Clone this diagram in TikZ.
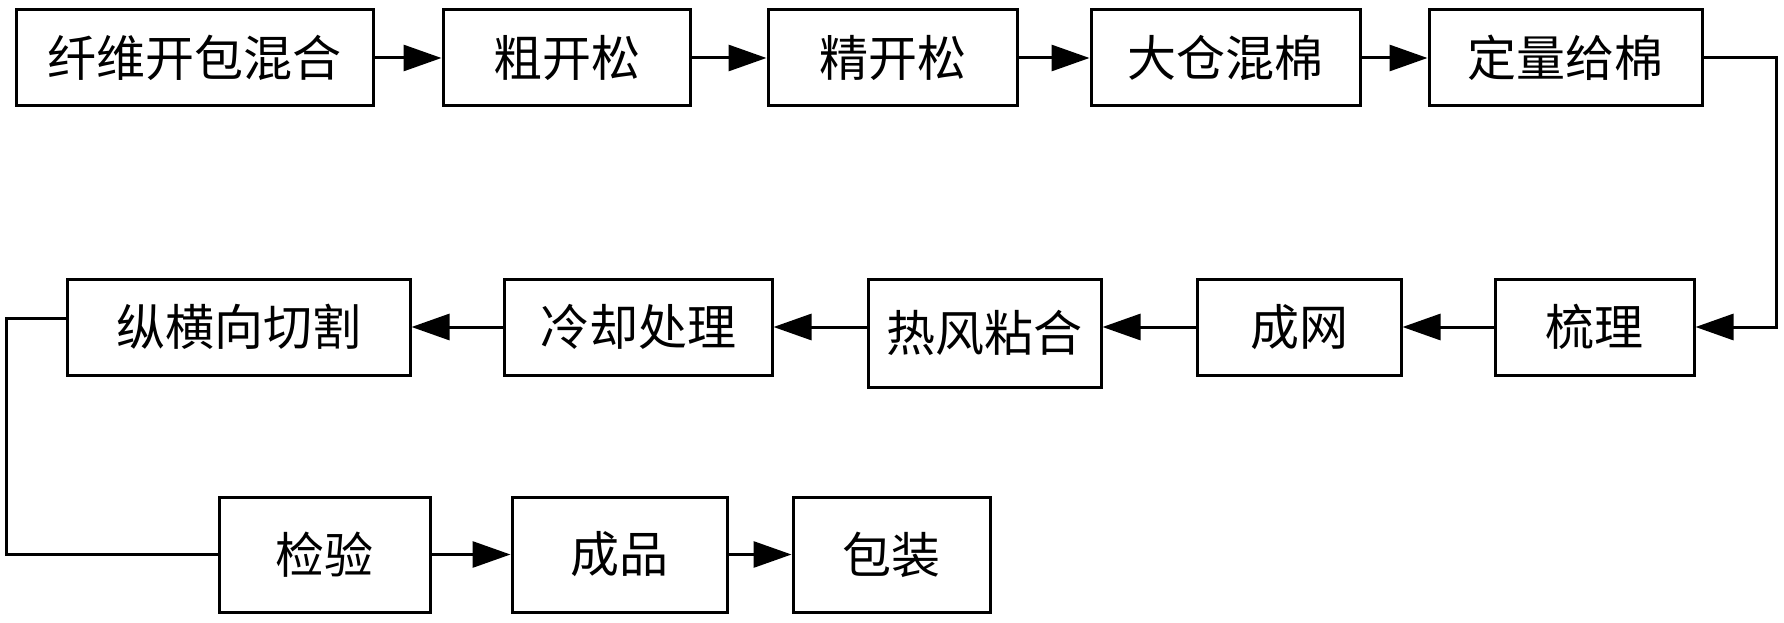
\documentclass[tikz,border=0pt]{standalone}
\usepackage{fontspec}
\newfontfamily\cjk{Noto Sans CJK SC}
\usetikzlibrary{arrows.meta}
\tikzset{
  stepbox/.style={draw, line width=3pt, rectangle, inner sep=0pt, font=\cjk\fontsize{49}{52}\selectfont},
  arr/.style={line width=3pt, -{Triangle[length=38pt, width=26pt]}},
  link/.style={line width=3pt}
}
\begin{document}
\begin{tikzpicture}[x=1pt, y=-1pt]
\useasboundingbox[fill=white] (0,0) rectangle (1784,623);
% row 1
\node[stepbox, minimum width=357pt, minimum height=96pt] (a1) at (194.5,58) {纤维开包混合};
\node[stepbox, minimum width=247pt, minimum height=96pt] (a2) at (566.5,58) {粗开松};
\node[stepbox, minimum width=249pt, minimum height=96pt] (a3) at (892.5,58) {精开松};
\node[stepbox, minimum width=269pt, minimum height=96pt] (a4) at (1225.5,58) {大仓混棉};
\node[stepbox, minimum width=273pt, minimum height=96pt] (a5) at (1565.5,58) {定量给棉};
% row 2
\node[stepbox, minimum width=343pt, minimum height=96pt] (b1) at (238.5,327) {纵横向切割};
\node[stepbox, minimum width=268pt, minimum height=96pt] (b2) at (638,327) {冷却处理};
\node[stepbox, minimum width=233pt, minimum height=108pt] (b3) at (984.5,333) {热风粘合};
\node[stepbox, minimum width=204pt, minimum height=96pt] (b4) at (1299,327) {成网};
\node[stepbox, minimum width=199pt, minimum height=96pt] (b5) at (1594.5,327) {梳理};
% row 3
\node[stepbox, minimum width=211pt, minimum height=115pt] (c1) at (324.5,554.5) {检验};
\node[stepbox, minimum width=215pt, minimum height=115pt] (c2) at (619.5,554.5) {成品};
\node[stepbox, minimum width=197pt, minimum height=115pt] (c3) at (891.5,554.5) {包装};
% connectors row 1
\draw[arr] (a1.east) -- (a2.west);
\draw[arr] (a2.east) -- (a3.west);
\draw[arr] (a3.east) -- (a4.west);
\draw[arr] (a4.east) -- (a5.west);
\coordinate (r) at (1776,58);
\draw[arr] (a5.east) -- (r) |- (b5.east);
% row 2
\draw[arr] (b5.west) -- (b4.east);
\draw[arr] (b4.west) -- (b4.west -| b3.east);
\draw[arr] (b4.west -| b3.west) -- (b2.east);
\draw[arr] (b2.west) -- (b1.east);
\coordinate (l) at (6,318);
\draw[link] ([yshift=9pt]b1.west) -- (l) |- (c1.west);
% row 3
\draw[arr] (c1.east) -- (c2.west);
\draw[arr] (c2.east) -- (c3.west);
\end{tikzpicture}
\end{document}
